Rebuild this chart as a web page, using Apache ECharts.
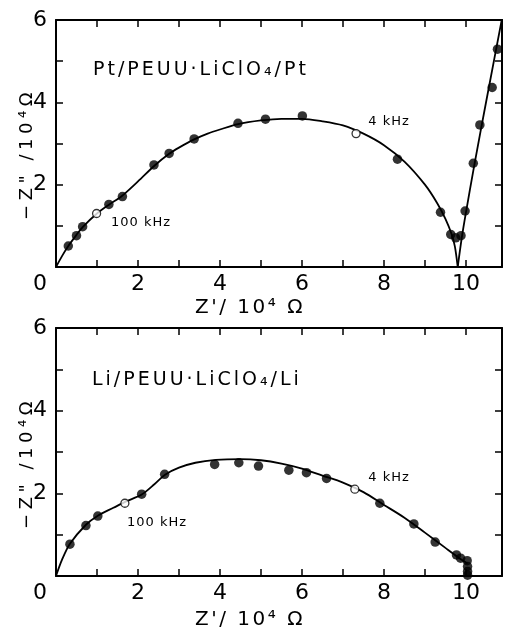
<!DOCTYPE html>
<html>
<head>
<meta charset="utf-8">
<script src="https://cdn.jsdelivr.net/npm/echarts@6/dist/echarts.min.js"></script>
<style>
html, body { margin: 0; padding: 0; background: #fff; }
#chart { width: 505px; height: 629px; }
</style>
</head>
<body>
<div id="chart"></div>
<script>
// impedance values, both axes in 10^4 ohm
// upper panel: Pt / PEUU-LiClO4 / Pt
var ptArcX = [0, 0.15, 0.3, 0.5, 0.65, 1.0, 1.3, 1.6, 2.0, 2.4, 2.76, 3.0, 3.37, 3.7, 4.0, 4.44, 5.0, 5.5, 6.0, 6.5, 7.0, 7.5, 8.0, 8.5, 9.0, 9.3, 9.5, 9.65, 9.73, 9.8];
var ptArcY = [0, 0.27, 0.51, 0.78, 0.97, 1.3, 1.52, 1.72, 2.08, 2.46, 2.75, 2.9, 3.1, 3.24, 3.34, 3.47, 3.56, 3.6, 3.6, 3.54, 3.44, 3.24, 2.96, 2.56, 2.0, 1.55, 1.17, 0.8, 0.5, 0];
var ptSpikeX = [9.8, 9.9, 10.0, 10.2, 10.5, 10.95];
var ptSpikeY = [0, 0.72, 1.32, 2.45, 4.05, 6.4];
var ptDotsX = [0.30, 0.50, 0.65, 1.29, 1.62, 2.39, 2.76, 3.37, 4.44, 5.11, 6.01, 8.33, 9.38, 9.63, 9.75, 9.88, 9.98, 10.18, 10.34, 10.64, 10.77];
var ptDotsY = [0.51, 0.76, 0.98, 1.52, 1.71, 2.48, 2.76, 3.11, 3.49, 3.59, 3.67, 2.62, 1.33, 0.79, 0.71, 0.76, 1.36, 2.52, 3.45, 4.36, 5.29];
var ptOpenX = [0.99, 7.32];
var ptOpenY = [1.30, 3.24];

// lower panel: Li / PEUU-LiClO4 / Li
var liArcX = [0, 0.15, 0.34, 0.73, 1.02, 1.4, 1.7, 2.09, 2.4, 2.66, 3.0, 3.4, 3.9, 4.5, 5.0, 5.5, 6.0, 6.5, 7.0, 7.5, 8.0, 8.5, 9.0, 9.5, 9.8, 10.04];
var liArcY = [0, 0.4, 0.78, 1.24, 1.46, 1.65, 1.8, 1.97, 2.22, 2.45, 2.62, 2.74, 2.81, 2.83, 2.8, 2.72, 2.6, 2.43, 2.26, 2.03, 1.72, 1.41, 1.05, 0.68, 0.46, 0.3];
var liDotsX = [0.34, 0.73, 1.02, 2.09, 2.65, 3.87, 4.46, 4.94, 5.68, 6.11, 6.60, 7.90, 8.73, 9.25, 9.77, 9.87, 10.03, 10.04, 10.04, 10.04];
var liDotsY = [0.77, 1.22, 1.45, 1.98, 2.46, 2.70, 2.74, 2.66, 2.56, 2.50, 2.36, 1.76, 1.26, 0.82, 0.51, 0.43, 0.37, 0.23, 0.11, 0.02];
var liOpenX = [1.68, 7.29];
var liOpenY = [1.76, 2.10];

var xLabels = [0, 2, 4, 6, 8, 10];
var yLabels = [2, 4, 6];
var xMax = 10.88;
var FONT = 'DejaVu Sans';

function pairs(xs, ys) {
  return xs.map(function (x, i) { return [x, ys[i]]; });
}

// wrap every character in a rich token so the letters get some extra spacing
function spaced(text) {
  return text.split('').map(function (c) { return '{c|' + c + '}'; }).join('');
}

function label(x, y, text, size, gap, align, rotation) {
  return {
    type: 'text', x: x, y: y, rotation: rotation || 0, silent: true,
    style: {
      text: spaced(text),
      rich: { c: { fontFamily: FONT, fontSize: size, fill: '#000', padding: [0, gap, 0, 0] } },
      fill: '#000', fontFamily: FONT, fontSize: size,
      textAlign: align, align: align,
      textVerticalAlign: 'middle', verticalAlign: 'middle'
    }
  };
}

function xAxisFor(grid, pos) {
  return {
    type: 'value', gridIndex: grid, position: pos,
    min: 0, max: xMax, interval: 1,
    axisLine: { onZero: false, lineStyle: { color: '#000', width: 2 } },
    axisTick: { inside: true, length: 7, lineStyle: { color: '#000', width: 1.5 } },
    axisLabel: {
      show: pos === 'bottom', margin: 6, color: '#000', fontFamily: FONT, fontSize: 22,
      formatter: function (v) {
        if (v === 0) return '{z|0}';
        return xLabels.indexOf(v) >= 0 ? String(v) : '';
      },
      rich: { z: { color: '#000', fontFamily: FONT, fontSize: 22, padding: [0, 32, 0, 0] } }
    },
    splitLine: { show: false }
  };
}

function yAxisFor(grid, pos) {
  return {
    type: 'value', gridIndex: grid, position: pos,
    min: 0, max: 6, interval: 1,
    axisLine: { onZero: false, lineStyle: { color: '#000', width: 2 } },
    axisTick: { inside: true, length: 7, lineStyle: { color: '#000', width: 1.5 } },
    axisLabel: {
      show: pos === 'left', margin: 9, color: '#000', fontFamily: FONT, fontSize: 22,
      formatter: function (v) { return yLabels.indexOf(v) >= 0 ? String(v) : ''; }
    },
    splitLine: { show: false }
  };
}

function curve(data, xi, yi) {
  return {
    type: 'line', xAxisIndex: xi, yAxisIndex: yi, data: data,
    smooth: 0.3, symbol: 'none', silent: true,
    lineStyle: { color: '#000', width: 1.8 }
  };
}

function dots(data, xi, yi, open) {
  return {
    type: 'scatter', xAxisIndex: xi, yAxisIndex: yi, data: data, silent: true,
    symbol: 'circle', symbolSize: open ? 8 : 9.5, z: 3,
    itemStyle: open ? { color: '#fff', borderColor: '#000', borderWidth: 1.3 } : { color: '#000' }
  };
}

var chart = echarts.init(document.getElementById('chart'));
var option = {
  backgroundColor: '#fff',
  animation: false,
  grid: [
    { left: 56, top: 20, width: 446, height: 247 },
    { left: 56, top: 328, width: 446, height: 248 }
  ],
  xAxis: [xAxisFor(0, 'bottom'), xAxisFor(0, 'top'), xAxisFor(1, 'bottom'), xAxisFor(1, 'top')],
  yAxis: [yAxisFor(0, 'left'), yAxisFor(0, 'right'), yAxisFor(1, 'left'), yAxisFor(1, 'right')],
  series: [
    curve(pairs(ptArcX, ptArcY), 0, 0),
    curve(pairs(ptSpikeX, ptSpikeY), 0, 0),
    dots(pairs(ptDotsX, ptDotsY), 0, 0, false),
    dots(pairs(ptOpenX, ptOpenY), 0, 0, true),
    curve(pairs(liArcX, liArcY), 2, 2),
    dots(pairs(liDotsX, liDotsY), 2, 2, false),
    dots(pairs(liOpenX, liOpenY), 2, 2, true)
  ],
  graphic: [
    label(93, 70, 'Pt/PEUU·LiClO₄/Pt', 19, 3, 'left'),
    label(92, 380, 'Li/PEUU·LiClO₄/Li', 19, 3, 'left'),
    label(141, 223, '100 kHz', 13, 1, 'center'),
    label(389, 122, '4 kHz', 13, 1, 'center'),
    label(157, 523, '100 kHz', 13, 1, 'center'),
    label(389, 478, '4 kHz', 13, 1, 'center'),
    label(250, 308, 'Z\'/ 10⁴ Ω', 20, 2.5, 'center'),
    label(250, 620, 'Z\'/ 10⁴ Ω', 20, 2.5, 'center'),
    label(27, 154, '−Z" /10⁴Ω', 18, 4.5, 'center', Math.PI / 2),
    label(27, 463, '−Z" /10⁴Ω', 18, 4.5, 'center', Math.PI / 2)
  ]
};
chart.setOption(option);
</script>
</body>
</html>
